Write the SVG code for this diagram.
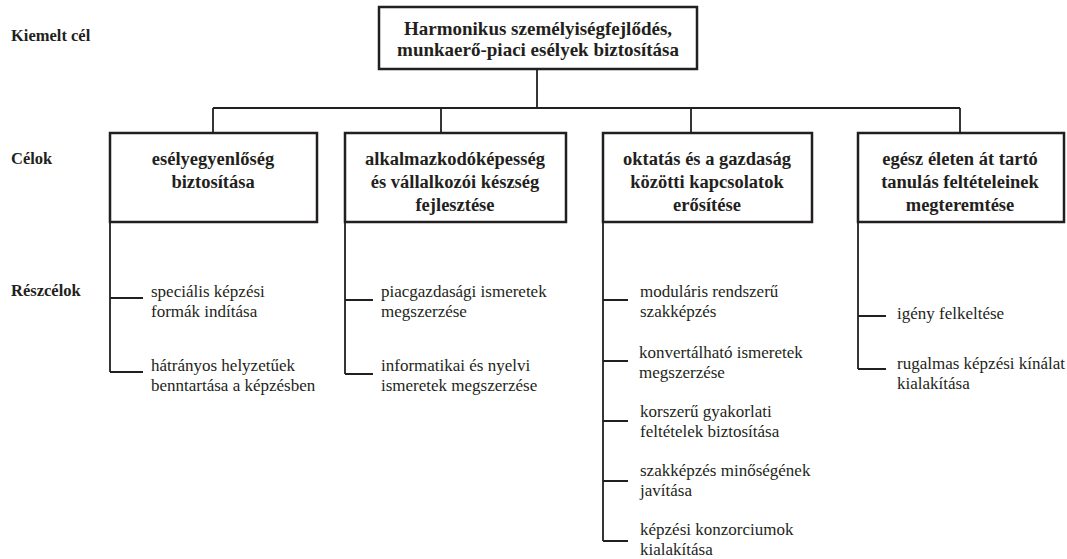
<svg xmlns="http://www.w3.org/2000/svg" width="1067" height="559" viewBox="0 0 1067 559">
<style>
.box{fill:#fff;stroke:#231f20;stroke-width:2.5}
.ln{fill:none;stroke:#231f20;stroke-width:1.8}
.row{font-family:"Liberation Serif","Times New Roman",Tinos,"DejaVu Serif",serif;font-weight:bold;font-size:16.5px;fill:#231f20}
.hd{font-family:"Liberation Serif","Times New Roman",Tinos,"DejaVu Serif",serif;font-weight:bold;font-size:18.5px;fill:#231f20;text-anchor:middle}
.top{font-size:19px}
.sub{font-family:"Liberation Serif","Times New Roman",Tinos,"DejaVu Serif",serif;font-size:17px;fill:#231f20}
</style>
<rect width="1067" height="559" fill="#fff"/>
<g id="row-labels">
<text class="row" x="11" y="41">Kiemelt cél</text>
<text class="row" x="11" y="164">Célok</text>
<text class="row" x="11" y="296">Részcélok</text>
</g>
<g id="connectors">
<path class="ln" d="M537 69V108M213 108H960M213 108V133M441 108V133M691 108V133M960 108V133"/>
<path class="ln" d="M110 222V372M110 298H143M110 372H143"/>
<path class="ln" d="M345 222V374M345 300H373M345 374H373"/>
<path class="ln" d="M603 222V541M603 300H628M603 361H628M603 421H628M603 481H628M603 541H628"/>
<path class="ln" d="M858 222V369M858 316H886M858 369H886"/>
</g>
<g id="main-goal">
<rect class="box" x="379" y="7" width="318" height="62"/>
<text class="hd top" x="538" y="35">Harmonikus személyiségfejlődés,</text>
<text class="hd top" x="538" y="56">munkaerő-piaci esélyek biztosítása</text>
</g>
<g id="goal-1">
<rect class="box" x="110" y="133" width="207" height="89"/>
<text class="hd" x="213" y="165">esélyegyenlőség</text>
<text class="hd" x="213" y="188">biztosítása</text>
</g>
<g id="goal-2">
<rect class="box" x="345" y="133" width="221" height="89"/>
<text class="hd" x="455" y="165">alkalmazkodóképesség</text>
<text class="hd" x="455" y="188">és vállalkozói készség</text>
<text class="hd" x="455" y="211">fejlesztése</text>
</g>
<g id="goal-3">
<rect class="box" x="603" y="133" width="209" height="89"/>
<text class="hd" x="707" y="165">oktatás és a gazdaság</text>
<text class="hd" x="707" y="188">közötti kapcsolatok</text>
<text class="hd" x="707" y="211">erősítése</text>
</g>
<g id="goal-4">
<rect class="box" x="858" y="133" width="206" height="89"/>
<text class="hd" x="960" y="165">egész életen át tartó</text>
<text class="hd" x="960" y="188">tanulás feltételeinek</text>
<text class="hd" x="960" y="211">megteremtése</text>
</g>
<g id="sub-1a"><text class="sub" x="151" y="297">speciális képzési</text><text class="sub" x="151" y="317">formák indítása</text></g>
<g id="sub-1b"><text class="sub" x="151" y="371">hátrányos helyzetűek</text><text class="sub" x="151" y="391">benntartása a képzésben</text></g>
<g id="sub-2a"><text class="sub" x="381" y="297">piacgazdasági ismeretek</text><text class="sub" x="381" y="317">megszerzése</text></g>
<g id="sub-2b"><text class="sub" x="381" y="371">informatikai és nyelvi</text><text class="sub" x="381" y="391">ismeretek megszerzése</text></g>
<g id="sub-3a"><text class="sub" x="640" y="297">moduláris rendszerű</text><text class="sub" x="640" y="317">szakképzés</text></g>
<g id="sub-3b"><text class="sub" x="639" y="358">konvertálható ismeretek</text><text class="sub" x="639" y="378">megszerzése</text></g>
<g id="sub-3c"><text class="sub" x="640" y="417">korszerű gyakorlati</text><text class="sub" x="640" y="437">feltételek biztosítása</text></g>
<g id="sub-3d"><text class="sub" x="640" y="476">szakképzés minőségének</text><text class="sub" x="640" y="496">javítása</text></g>
<g id="sub-3e"><text class="sub" x="640" y="535">képzési konzorciumok</text><text class="sub" x="640" y="555">kialakítása</text></g>
<g id="sub-4a"><text class="sub" x="897" y="319">igény felkeltése</text></g>
<g id="sub-4b"><text class="sub" x="897" y="369">rugalmas képzési kínálat</text><text class="sub" x="897" y="389">kialakítása</text></g>
</svg>
